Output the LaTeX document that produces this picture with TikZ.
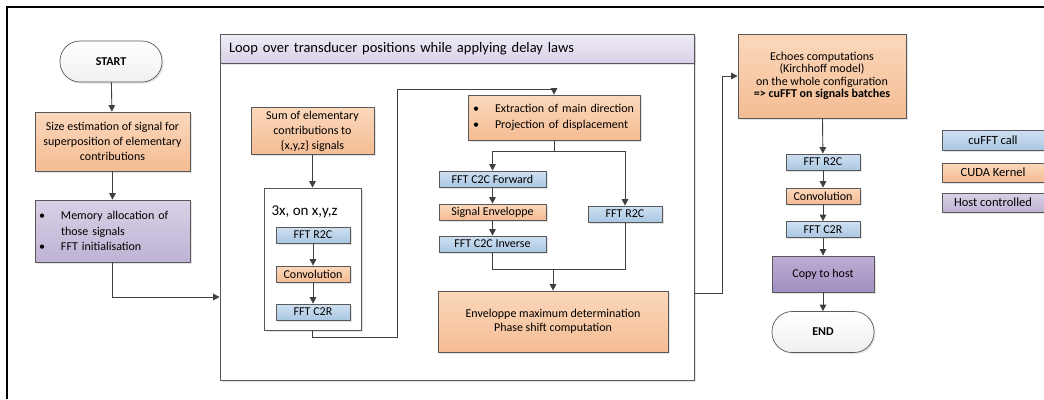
\documentclass[tikz,border=0pt]{standalone}
\usepackage{fontspec}
\setmainfont{Carlito}
\usetikzlibrary{arrows.meta,shadows}

\definecolor{boxline}{HTML}{595959}
\definecolor{flowline}{HTML}{404040}
\definecolor{kernelA}{HTML}{FBD8BC}
\definecolor{kernelB}{HTML}{F4BC93}
\definecolor{fftA}{HTML}{CFE0F1}
\definecolor{fftB}{HTML}{AAC7E3}
\definecolor{hostA}{HTML}{D9D1E6}
\definecolor{hostB}{HTML}{BFB2D4}
\definecolor{copyA}{HTML}{BDAED3}
\definecolor{copyB}{HTML}{A28EC2}
\definecolor{headA}{HTML}{F0ECF6}
\definecolor{headB}{HTML}{D9D1E8}

\newcommand{\bitem}{\makebox[22pt][l]{\textbullet}}
\newcommand{\bcont}{\hspace*{22pt}}

\begin{document}
\begin{tikzpicture}[
    x=1pt, y=-1pt,
    font=\fontsize{12}{15}\selectfont,
    box/.style={draw=boxline, line width=0.7pt, inner sep=3pt, align=center,
        drop shadow={opacity=0.22, shadow xshift=1.5pt, shadow yshift=-1.5pt}},
    kernel/.style={box, top color=kernelA, bottom color=kernelB},
    fftcall/.style={box, top color=fftA, bottom color=fftB,
        minimum height=16pt, inner ysep=1pt},
    host/.style={box, top color=hostA, bottom color=hostB},
    copyhost/.style={box, top color=copyA, bottom color=copyB},
    plainbox/.style={box, fill=white},
    term/.style={box, rounded corners=20pt, top color=white, bottom color=gray!12,
        minimum width=102pt, minimum height=41pt, font=\fontsize{12}{14}\selectfont\bfseries},
    flow/.style={draw=flowline, line width=0.9pt, -{Triangle[length=6.5pt, width=6.5pt]}},
    link/.style={draw=flowline, line width=0.9pt}
]
\useasboundingbox (0,0) rectangle (1044,399);

% outer frame (top and left only)
\draw[line width=1.3pt] (7,399) -- (7,7) -- (1044,7);

% left column
\node[term] (start) at (111,61.5) {START};
\node[kernel, minimum width=155pt, minimum height=59pt] (size) at (112.5,141.5)
    {Size estimation of signal for\\superposition of elementary\\contributions};
\node[host, text width=147pt, inner xsep=4pt, align=left, minimum height=62pt,
    font=\fontsize{12}{15.5}\selectfont] (mem) at (112.5,231)
    {\bitem Memory allocation of\\\bcont those signals\\\bitem FFT initialisation};

% loop container
\node[plainbox, minimum width=474pt, minimum height=346pt] (loop) at (457,207) {};
\node[box, anchor=north west, top color=headA, bottom color=headB, drop shadow={opacity=0},
    minimum width=474pt, minimum height=29pt, text width=456pt, inner xsep=9pt, align=left,
    font=\fontsize{14.5}{16}\selectfont] (loophead) at (loop.north west)
    {Loop over transducer positions while applying delay laws};

% sum and convolution per axis
\node[kernel, minimum width=123pt, minimum height=42pt] (sum) at (312.5,131)
    {Sum of elementary\\contributions to\\\{x,y,z\} signals};
\node[plainbox, minimum width=97pt, minimum height=142pt] (axes) at (312.5,259) {};
\node[anchor=west, font=\fontsize{15}{16}\selectfont] (axeslabel) at (268,212) {3x, on x,y,z};
\node[fftcall, minimum width=74pt] (r2cA) at (313,235) {FFT R2C};
\node[kernel, minimum width=74pt, minimum height=16pt, inner ysep=1pt] (convA) at (313,274) {Convolution};
\node[fftcall, minimum width=74pt] (c2rA) at (313,312) {FFT C2R};

% direction / envelope branch
\node[kernel, text width=162pt, inner xsep=5pt, align=left, minimum height=45pt,
    font=\fontsize{12}{16}\selectfont] (extract) at (554,117.5)
    {\bitem Extraction of main direction\\\bitem Projection of displacement};
\node[fftcall, minimum width=107pt] (c2cF) at (492.5,179) {FFT C2C Forward};
\node[kernel, minimum width=107pt, minimum height=16pt, inner ysep=1pt] (envA) at (492.5,212) {Signal Enveloppe};
\node[fftcall, minimum width=107pt] (c2cI) at (492.5,244) {FFT C2C Inverse};
\node[fftcall, minimum width=74pt] (r2cB) at (625,214) {FFT R2C};
\node[kernel, minimum width=230pt, minimum height=61pt, font=\fontsize{12}{14.5}\selectfont] (envmax) at (553,321.5)
    {Enveloppe maximum determination\\Phase shift computation};

% right column
\node[kernel, minimum width=168pt, minimum height=84pt, font=\fontsize{12}{12.5}\selectfont] (echoes) at (822,76)
    {Echoes computations\\(Kirchhoff model)\\on the whole configuration\\\textbf{=> cuFFT on signals batches}};
\node[fftcall, minimum width=74pt] (r2cC) at (823,162) {FFT R2C};
\node[kernel, minimum width=74pt, minimum height=16pt, inner ysep=1pt] (convC) at (823,196) {Convolution};
\node[fftcall, minimum width=74pt] (c2rC) at (823,229.5) {FFT C2R};
\node[copyhost, minimum width=102pt, minimum height=36pt] (copy) at (823,274) {Copy to host};
\node[term] (end) at (823,332) {END};

% legend
\node[fftcall, minimum width=102pt, minimum height=20pt, font=\fontsize{12.5}{14}\selectfont] (legfft) at (993,140) {cuFFT call};
\node[kernel, minimum width=102pt, minimum height=19pt, inner ysep=1pt, font=\fontsize{12.5}{14}\selectfont] (legkernel) at (993,172.5) {CUDA Kernel};
\node[host, minimum width=102pt, minimum height=19pt, inner ysep=1pt, font=\fontsize{12.5}{14}\selectfont] (leghost) at (993,202.5) {Host controlled};

% connectors
\coordinate (loopin) at (loop.west |- 0,297);
\coordinate (up1) at (397,337);
\coordinate (up2) at (397,89);
\coordinate (split) at (extract.south |- 0,151);
\coordinate (merge) at (envmax.north |- 0,269);
\coordinate (loopout) at (loop.east |- 0,293);

\draw[flow] (start) -- (size);
\draw[flow] (size) -- (mem);
\draw[flow] (mem.south) |- (loopin);

\draw[flow] (sum) -- (axes);
\draw[flow] (r2cA) -- (convA);
\draw[flow] (convA) -- (c2rA);
\draw[flow] (axes.south) |- (up1) -- (up2) -| (extract.north);

\draw[link] (extract.south) -- (split);
\draw[flow] (split) -| (c2cF.north);
\draw[flow] (split) -| (r2cB.north);
\draw[flow] (c2cF) -- (envA);
\draw[flow] (envA) -- (c2cI);
\draw[link] (c2cI.south) |- (merge);
\draw[link] (r2cB.south) |- (merge);
\draw[flow] (merge) -- (envmax.north);

\draw[flow] (loopout) -- ++(28,0) |- (echoes.west);
\draw[flow] (echoes) -- (r2cC);
\draw[flow] (r2cC) -- (convC);
\draw[flow] (convC) -- (c2rC);
\draw[flow] (c2rC) -- (copy);
\draw[flow] (copy) -- (end);

\end{tikzpicture}
\end{document}
